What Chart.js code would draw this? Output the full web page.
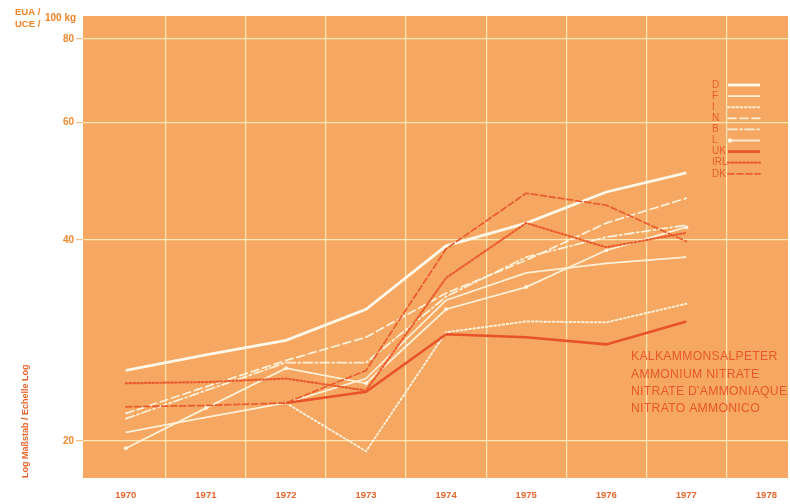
<!DOCTYPE html>
<html>
<head>
<meta charset="utf-8">
<script src="https://cdn.jsdelivr.net/npm/chart.js@4.4.0/dist/chart.umd.min.js"></script>
<style>
html,body{margin:0;padding:0;background:#ffffff;overflow:hidden}
#wrap{width:790px;height:504px;position:relative}
</style>
</head>
<body>
<div id="wrap"><canvas id="c" width="790" height="504"></canvas></div>
<script>
// ---- data ----
const years = [1970, 1971, 1972, 1973, 1974, 1975, 1976, 1977];
const yearLabels = [1970, 1971, 1972, 1973, 1974, 1975, 1976, 1977, 1978];
const yTickValues = [20, 40, 60, 80];
const seriesNames = ['D', 'F', 'I', 'N', 'B', 'L', 'UK', 'IRL', 'DK'];
const valuesD   = [25.5, 26.9, 28.3, 31.5, 39.2, 42.4, 47.2, 50.4];
const valuesF   = [20.6, 21.7, 22.8, 24.8, 32.5, 35.7, 36.9, 37.7];
const valuesI   = [null, null, 22.8, 19.3, 29.1, 30.2, 30.1, 32.1];
const valuesN   = [22.0, 24.1, 26.4, 28.6, 33.3, 37.3, 42.4, 46.2];
const valuesB   = [21.6, 23.8, 26.2, 26.2, 32.9, 37.7, 40.4, 42.1];
const valuesL   = [19.5, 22.4, 25.7, 24.4, 31.5, 34.0, 38.6, 41.8];
const valuesUK  = [null, null, 22.8, 23.7, 28.9, 28.6, 27.9, 30.2];
const valuesIRL = [24.4, 24.5, 24.8, 23.8, 35.1, 42.4, 39.0, 41.0];
const valuesDK  = [22.5, 22.6, 22.8, 25.5, 38.8, 47.0, 45.1, 39.8];
const headerLines = ['EUA /', 'UCE /'];
const headerUnit = '100 kg';
const yAxisTitle = 'Log Maßstab / Echelle Log';
const noteLines = ['KALKAMMONSALPETER', 'AMMONIUM NITRATE', "NITRATE D'AMMONIAQUE", 'NITRATO AMMONICO'];

// ---- styles ----
const WHITE = 'rgba(255,251,236,0.97)';
const WHITE2 = 'rgba(255,246,225,0.92)';
const RED = '#e8532a';
const RED2 = '#ea5f30';
const styleOf = {
  D:   {c: WHITE,  w: 2.8, dash: [],           pr: 0},
  F:   {c: WHITE2, w: 1.8, dash: [],           pr: 0},
  I:   {c: WHITE2, w: 2.0, dash: [1.6, 2.6],   pr: 0},
  N:   {c: WHITE2, w: 1.8, dash: [8, 4],       pr: 0},
  B:   {c: WHITE2, w: 1.8, dash: [9, 3, 2, 3], pr: 0},
  L:   {c: WHITE2, w: 1.8, dash: [],           pr: 2},
  UK:  {c: RED,    w: 2.6, dash: [],           pr: 0},
  IRL: {c: RED2,   w: 2.2, dash: [1.6, 2.2],   pr: 0},
  DK:  {c: RED2,   w: 1.8, dash: [6, 3],       pr: 0}
};
const seriesValues = [valuesD, valuesF, valuesI, valuesN, valuesB, valuesL, valuesUK, valuesIRL, valuesDK];

const datasets = seriesNames.map((name, i) => {
  const s = styleOf[name];
  return {
    label: name,
    data: years.map((yr, k) => ({x: yr, y: seriesValues[i][k]})),
    borderColor: s.c,
    backgroundColor: s.c,
    borderWidth: s.w,
    borderDash: s.dash,
    borderCapStyle: s.dash.length ? 'round' : 'butt',
    pointRadius: s.pr,
    pointHoverRadius: s.pr,
    pointBorderWidth: 0,
    tension: 0,
    spanGaps: false,
    fill: false
  };
});
// draw white series first, red ones on top as in the print
datasets.forEach((d, i) => { d.order = 20 - i; });

const xTicks = [];
yearLabels.forEach(y => { xTicks.push(y); if (y < 1978) xTicks.push(y + 0.5); });

const FONT = 'Liberation Sans, Arial, sans-serif';
const GRID = 'rgba(255,236,190,0.95)';

const bgPlugin = {
  id: 'bg',
  beforeDraw(chart) {
    const {ctx, chartArea: a} = chart;
    ctx.save();
    ctx.fillStyle = '#f6a761';
    ctx.fillRect(a.left, a.top, a.right - a.left, a.bottom - a.top);
    ctx.restore();
  }
};

const textPlugin = {
  id: 'texts',
  afterDraw(chart) {
    const ctx = chart.ctx;
    ctx.save();
    // header
    ctx.fillStyle = '#f08428';
    ctx.font = 'bold 9.5px ' + FONT;
    ctx.textBaseline = 'middle';
    ctx.textAlign = 'left';
    ctx.fillText(headerLines[0], 15, 12);
    ctx.fillText(headerLines[1], 15, 24);
    ctx.font = 'bold 10px ' + FONT;
    ctx.fillText(headerUnit, 45, 18);
    // legend
    const lx = 712, sx0 = 728, sx1 = 760;
    chart.data.datasets.forEach((d, i) => {
      const y = 85 + i * 11.1;
      ctx.fillStyle = '#e8602a';
      ctx.font = '10px ' + FONT;
      ctx.textBaseline = 'middle';
      ctx.fillText(d.label, lx, y);
      ctx.strokeStyle = d.borderColor;
      ctx.lineWidth = d.borderWidth;
      ctx.setLineDash(d.borderDash || []);
      ctx.lineCap = d.borderCapStyle;
      ctx.beginPath();
      ctx.moveTo(sx0, y);
      ctx.lineTo(sx1, y);
      ctx.stroke();
      if (d.pointRadius > 0) {
        ctx.setLineDash([]);
        ctx.fillStyle = d.borderColor;
        ctx.beginPath();
        ctx.arc(sx0 + 2, y, 2.2, 0, Math.PI * 2);
        ctx.fill();
      }
    });
    ctx.setLineDash([]);
    // note
    ctx.fillStyle = '#e8582a';
    ctx.font = '12.2px ' + FONT;
    if ('letterSpacing' in ctx) ctx.letterSpacing = '0.3px';
    noteLines.forEach((t, i) => ctx.fillText(t, 631, 357 + i * 17.2));
    ctx.restore();
  }
};

new Chart(document.getElementById('c'), {
  type: 'line',
  data: {datasets},
  options: {
    responsive: false,
    animation: false,
    devicePixelRatio: 1,
    layout: {padding: {top: 16, left: 0, right: 0, bottom: 0}},
    plugins: {legend: {display: false}, tooltip: {enabled: false}},
    scales: {
      x: {
        type: 'linear',
        min: 1969.465,
        max: 1978.27,
        afterBuildTicks: s => { s.ticks = xTicks.map(v => ({value: v})); },
        afterFit: s => { s.height = 26; },
        ticks: {
          autoSkip: false, maxRotation: 0, padding: 12,
          color: '#e8662c',
          font: {family: FONT, size: 9.5, weight: 'bold'},
          callback: v => Number.isInteger(v) ? String(v) : ''
        },
        grid: {
          drawTicks: false,
          lineWidth: 1.2,
          color: c => (c.tick && !Number.isInteger(c.tick.value)) ? GRID : 'rgba(0,0,0,0)'
        },
        border: {display: false}
      },
      y: {
        type: 'logarithmic',
        min: 17.6,
        max: 86.6,
        afterBuildTicks: s => { s.ticks = yTickValues.map(v => ({value: v})); },
        afterFit: s => { s.width = 83; },
        ticks: {
          autoSkip: false, padding: 2,
          color: '#f08a30',
          font: {family: FONT, size: 10, weight: 'bold'},
          callback: v => String(v)
        },
        grid: {color: GRID, lineWidth: 1.2, tickLength: 7, tickColor: '#f7bf86'},
        border: {display: false},
        title: {
          display: true, text: yAxisTitle, align: 'start',
          color: '#e8662c',
          font: {family: FONT, size: 9, weight: 'bold'},
          padding: {top: 20, bottom: 0}
        }
      }
    }
  },
  plugins: [bgPlugin, textPlugin]
});
</script>
</body>
</html>
